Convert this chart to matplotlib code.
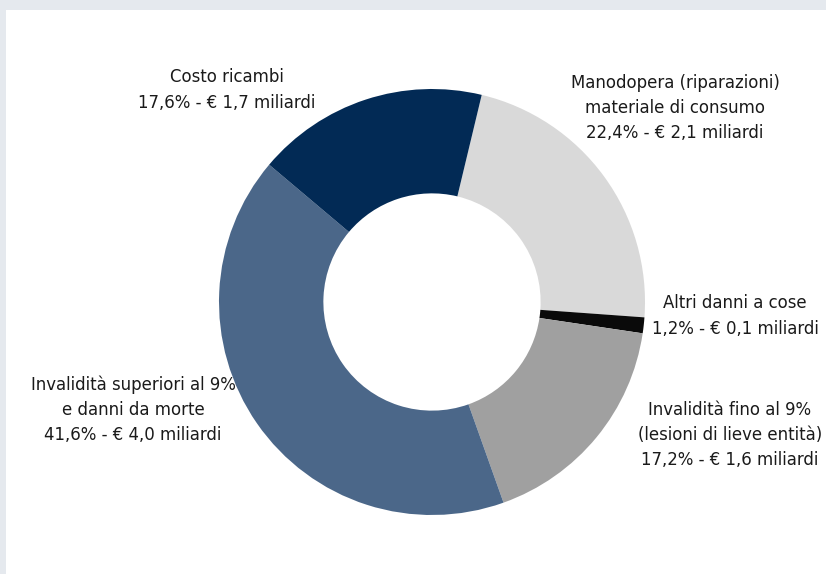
import matplotlib.pyplot as plt
from matplotlib.patches import Rectangle
from matplotlib.font_manager import FontProperties

# slice data, in clockwise order starting at the top
labels = ['Manodopera (riparazioni)\nmateriale di consumo',
          'Altri danni a cose',
          'Invalidità fino al 9%\n(lesioni di lieve entità)',
          'Invalidità superiori al 9%\ne danni da morte',
          'Costo ricambi']
shares = [22.4, 1.2, 17.2, 41.6, 17.6]
billions = ['2,1', '0,1', '1,6', '4,0', '1,7']
colors = ['#d9d9d9', '#0a0a0a', '#a0a0a0', '#4b6789', '#022a55']

# label anchor points (pixel coords, y from top)
label_pos = [(675, 108), (735, 316), (730, 435), (133, 410), (227, 90)]

# the original uses a narrow face
fp = FontProperties(family='DejaVu Sans', stretch='condensed', size=13.2)

W, H = 826, 574
fig = plt.figure(figsize=(W / 100, H / 100), dpi=100, facecolor='#e5e9ee')
ax = fig.add_axes([0, 0, 1, 1])

# white panel inside the grey frame
ax.add_patch(Rectangle((6, 0), W - 6, H - 10, facecolor='white', edgecolor='none', zorder=0))

ax.pie(shares, colors=colors, startangle=76.5, counterclock=False,
       center=(432, H - 302), radius=213, frame=True,
       wedgeprops=dict(width=213 * 0.49, edgecolor='none', linewidth=0))
ax.set_xlim(0, W)
ax.set_ylim(0, H)
ax.axis('off')

for lab, s, b, (x, y) in zip(labels, shares, billions, label_pos):
    txt = f"{lab}\n{str(s).replace('.', ',')}% - € {b} miliardi"
    ax.text(x, H - y, txt, ha='center', va='center', fontproperties=fp,
            color='#1a1a1a', linespacing=1.5)

fig.savefig('out.png', dpi=100, facecolor=fig.get_facecolor())
